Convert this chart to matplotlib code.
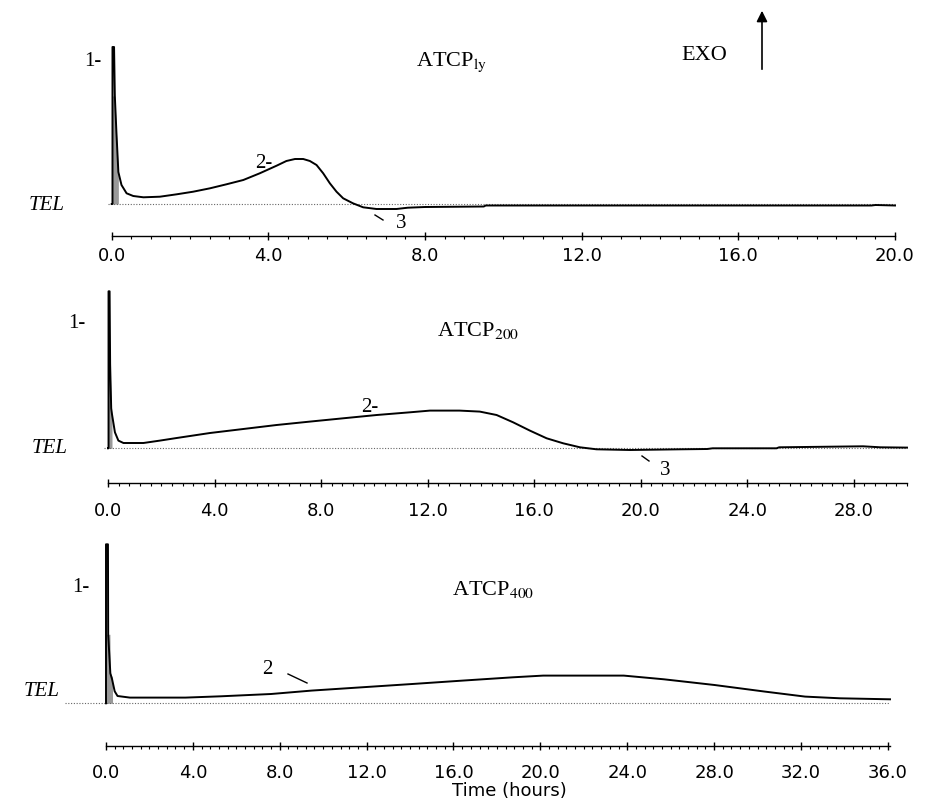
import matplotlib
matplotlib.use("Agg")
import matplotlib.pyplot as plt
from matplotlib.lines import Line2D
from matplotlib.patches import FancyArrowPatch
from matplotlib.ticker import MultipleLocator, FormatStrFormatter

# heat flow traces, signal measured from the TEL baseline (arbitrary units)
t_ly = [0, 0.02, 0.02, 0.06, 0.08, 0.12, 0.17, 0.25, 0.38, 0.55, 0.81, 1.23, 1.66, 2.08,
        2.51, 2.93, 3.36, 3.78, 4.21, 4.46, 4.68, 4.89, 5.06, 5.23, 5.4, 5.57, 5.74, 5.91,
        6.16, 6.42, 6.76, 7.27, 7.56, 8.0, 9.5, 9.55, 12.0, 16.0, 19.4, 19.5, 20.0]
s_ly = [0, 0, 157, 157, 108, 72, 32, 19, 10.7, 8, 6.7, 7.3, 9.7, 12.3,
        15.7, 19.7, 24, 30.7, 38.3, 43, 45, 45, 43, 39, 30.7, 20.7, 12.3, 5.7,
        0.7, -3.3, -5, -5, -3.7, -3, -2.5, -1.5, -1.5, -1.5, -1.5, -1, -1.5]
shade_t_ly = [0.02, 0.08, 0.12, 0.17]
shade_s_ly = [108, 108, 72, 32]

t_200 = [0, 0.02, 0.02, 0.06, 0.08, 0.12, 0.15, 0.26, 0.39, 0.58, 1.33, 1.95, 2.58, 3.83,
         5.08, 6.33, 7.58, 8.83, 10.09, 11.34, 12.09, 13.2, 13.96, 14.59, 15.21, 15.84,
         16.47, 17.09, 17.72, 18.34, 19.6, 21.5, 22.5, 22.7, 25.1, 25.2, 28.35, 29.0, 30.0]
s_200 = [0, 0, 157, 157, 84, 40, 34, 16, 7.7, 5.3, 5.3, 7.7, 10.3, 15.3,
         19.3, 23.3, 26.7, 30, 33.3, 36, 37.7, 37.7, 36.7, 33.3, 26, 17.7,
         10, 5, 1, -1, -1.7, -1, -0.7, 0, 0, 1, 2, 1, 0.7]
shade_t_200 = [0.02, 0.08, 0.12, 0.15]
shade_s_200 = [84, 84, 40, 34]

t_400 = [0, 0.0, 0.09, 0.1, 0.2, 0.28, 0.4, 0.53, 1.1, 3.66, 5.29, 7.6, 9.46, 11.78, 14.1,
         16.42, 18.74, 20.13, 23.84, 25.69, 28.02, 30.34, 32.19, 33.8, 36.1]
s_400 = [0, 159, 159, 69, 30, 24, 12, 7.3, 5.7, 5.7, 7, 9.3, 12.7, 16, 19.3,
         22.7, 26, 27.7, 27.7, 24, 18.3, 11.7, 6.7, 5, 4]
shade_t_400 = [0.0, 0.18, 0.2, 0.3]
shade_s_400 = [69, 69, 30, 26]

W, H = 925, 803
fig = plt.figure(figsize=(W / 100, H / 100), dpi=100)
SERIF = ["Liberation Serif", "DejaVu Serif"]
SANS = ["DejaVu Sans"]
plt.rcParams["mathtext.fontset"] = "stix"


def rect(l, t, r, b):
    return [l / W, 1 - b / H, (r - l) / W, (b - t) / H]


def fxy(x, y):
    return x / W, 1 - y / H


def panel(box, xmax, ylim, t, s, sh_t, sh_s, minor, outward, pad, tel_from):
    ax = fig.add_axes(rect(*box))
    ax.set_xlim(0, xmax)
    ax.set_ylim(*ylim)
    ax.plot([tel_from, xmax], [0, 0], color="0.4", lw=0.8, ls=(0, (1, 1.5)), clip_on=False)
    ax.fill_between(sh_t, 0, sh_s, color="0.6", lw=0)
    ax.plot(t, s, color="k", lw=1.4, clip_on=False, solid_joinstyle="round")
    for side in ("top", "right", "left"):
        ax.spines[side].set_visible(False)
    ax.spines["bottom"].set_position(("outward", outward))
    ax.spines["bottom"].set_linewidth(1.0)
    ax.set_yticks([])
    ax.xaxis.set_major_locator(MultipleLocator(4))
    ax.xaxis.set_minor_locator(MultipleLocator(minor))
    ax.xaxis.set_major_formatter(FormatStrFormatter("%.1f"))
    ax.tick_params(axis="x", which="major", direction="inout", length=6, width=1.0,
                   labelsize=13, pad=pad)
    ax.tick_params(axis="x", which="minor", direction="out", length=2.5, width=0.8)
    for lab in ax.get_xticklabels():
        lab.set_family(SANS)
    return ax


ax1 = panel((111.7, 40, 895, 215), 20, (-10, 165), t_ly, s_ly, shade_t_ly, shade_s_ly,
            0.5, 15.8, 4.5, -0.1)
ax2 = panel((108, 285, 907, 458), 30, (-8.7, 164.3), t_200, s_200, shade_t_200, shade_s_200,
            0.4, 18.5, 10, -0.15)
ax3 = panel((106, 540, 890, 712), 36.1, (-7.7, 164.3), t_400, s_400, shade_t_400, shade_s_400,
            0.4, 25, 9.5, -1.9)


def label(x, y, s, size=15, style="normal", family=SERIF):
    fig.text(*fxy(x, y), s, ha="center", va="center", fontsize=size, family=family,
             style=style)


def leader(x1, y1, x2, y2):
    fig.add_artist(Line2D([x1 / W, x2 / W], [1 - y1 / H, 1 - y2 / H], color="k", lw=1.0,
                          transform=fig.transFigure))


# panel 1
label(93, 61, "1-")
label(47, 206, "TEL", style="italic")
label(451, 62, r"ATCP$_{\mathrm{ly}}$", size=16)
label(704, 55, "EXO", size=16)
label(264, 164, "2-")
label(401, 224, "3")
leader(375, 216, 383, 221)
fig.add_artist(FancyArrowPatch(fxy(762, 73), fxy(762, 9), transform=fig.transFigure,
                               arrowstyle="-|>", mutation_scale=16, color="k", lw=1.2))

# panel 2
label(77, 324, "1-")
label(50, 449, "TEL", style="italic")
label(478, 331, r"ATCP$_{\mathrm{200}}$", size=16)
label(370, 408, "2-")
label(665, 471, "3")
leader(642, 457, 649, 462)

# panel 3
label(81, 588, "1-")
label(42, 692, "TEL", style="italic")
label(493, 590, r"ATCP$_{\mathrm{400}}$", size=16)
label(267, 670, "2")
leader(288, 675, 307, 684)
label(509, 791, "Time (hours)", size=13, family=SANS)

fig.savefig("out.png", dpi=100)
